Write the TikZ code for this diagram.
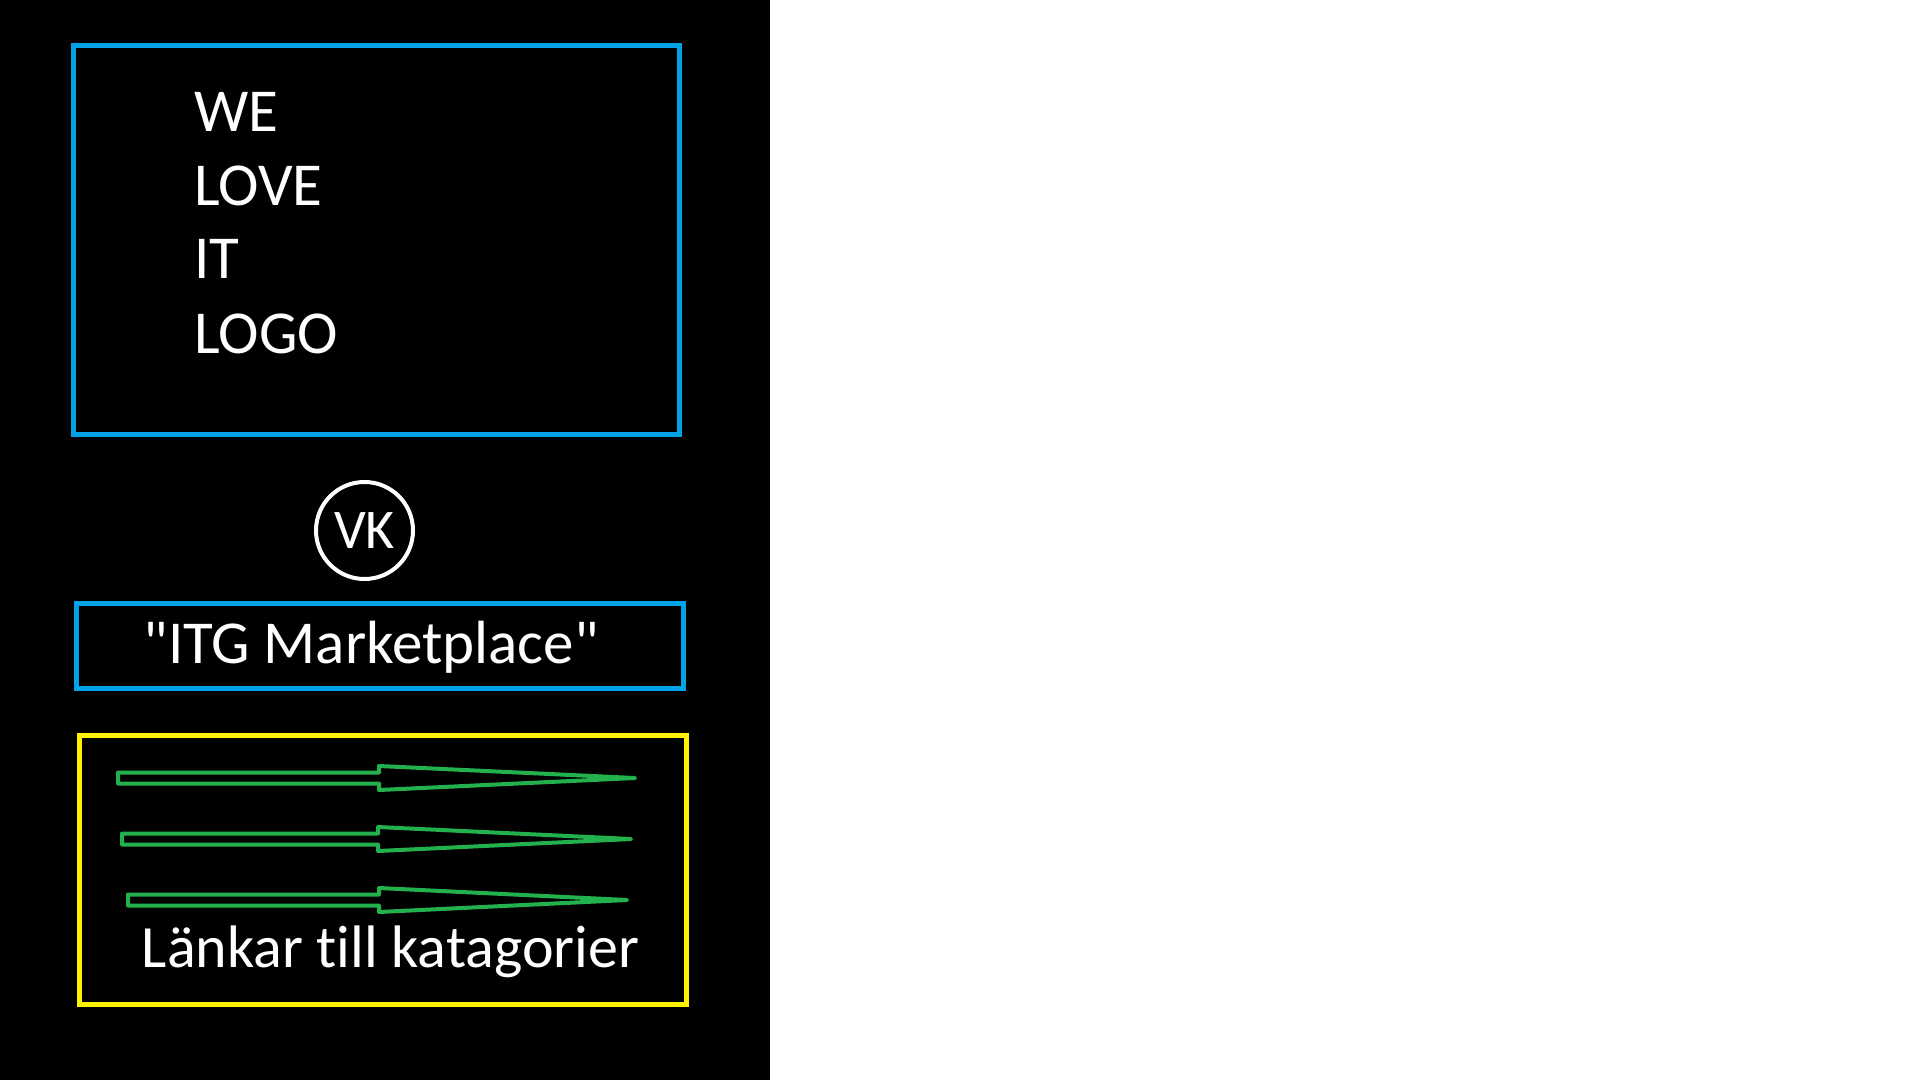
\documentclass[tikz,border=0pt]{standalone}
\usepackage{fontspec}
\setmainfont[Ligatures={CommonOff,TeXOff}]{Carlito}
\definecolor{pblue}{HTML}{00A2E8}
\definecolor{pyellow}{HTML}{FFF200}
\definecolor{pgreen}{HTML}{22B14C}
\begin{document}
\begin{tikzpicture}[x=0.5pt,y=-0.5pt,
  bluebox/.style={draw=pblue, line width=2.5pt, inner sep=0pt, rectangle},
  yellowbox/.style={draw=pyellow, line width=2.5pt, inner sep=0pt, rectangle},
  label/.style={text=white, inner sep=0pt, anchor=base},
  logotext/.style={text=white, inner sep=0pt, anchor=base west, font=\fontsize{30.5pt}{37pt}\selectfont},
  linkarrow/.style={draw=pgreen, line width=2pt, line join=round}
]
\useasboundingbox (0,0) rectangle (1920,1080);
\fill[white] (0,0) rectangle (1920,1080);
\fill[black] (0,0) rectangle (770,1080);

% logo box
\node[bluebox, minimum width=303pt, minimum height=194pt] (logobox) at (376.5,240) {};
\node[logotext] (we) at (194,132) {WE};
\node[logotext] (love) at (194,206) {LOVE};
\node[logotext] (it) at (194,279) {IT};
\node[logotext] (logo) at (194,353) {LOGO};

% VK circle
\node[circle, draw=white, line width=2pt, minimum size=48.5pt, inner sep=0pt,
      text=white, font=\fontsize{28pt}{34pt}\selectfont] (vk) at (364.5,530.5) {VK};

% title box
\node[bluebox, minimum width=303.75pt, minimum height=42.5pt] (titlebox) at (379.75,646) {};
\node[label, font=\fontsize{30.5pt}{36pt}\selectfont] (title) at (371,663) {"ITG Marketplace"};

% links box
\node[yellowbox, minimum width=303.5pt, minimum height=134.5pt] (linkbox) at (383,870) {};
\foreach \xa/\xb/\xt/\yy in {118/379/635/778, 122/378/631/839, 128/379/627/900}{
  \draw[linkarrow] (\xa,\yy-5.5) -- (\xb,\yy-5.5) -- (\xb,\yy-12) -- (\xt,\yy)
     -- (\xb,\yy+12) -- (\xb,\yy+5.5) -- (\xa,\yy+5.5) -- cycle;
}
\node[label, font=\fontsize{30pt}{36pt}\selectfont] (links) at (390.5,967) {Länkar till katagorier};
\end{tikzpicture}
\end{document}
